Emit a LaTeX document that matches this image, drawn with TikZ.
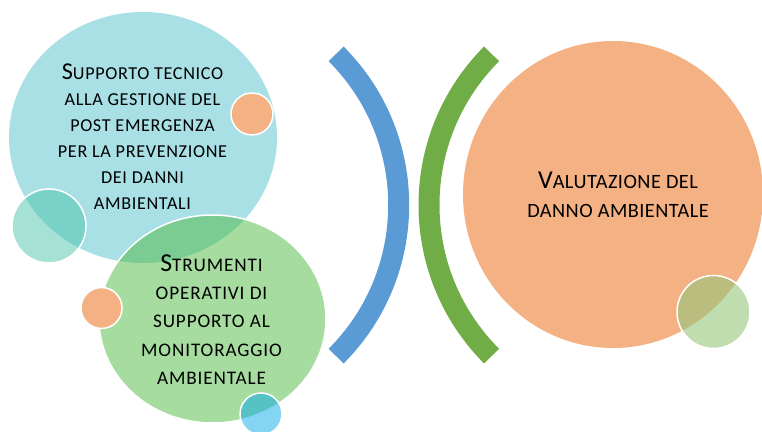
\documentclass[tikz,border=0pt]{standalone}
\usepackage{fontspec}
\setmainfont{Carlito}
\newcommand\initcap[2]{{\fontsize{#1}{#1}\selectfont #2}}
\definecolor{bluebg}{RGB}{168,224,230}
\definecolor{tealc}{RGB}{75,195,169}
\definecolor{greenc}{RGB}{77,185,65}
\definecolor{orangec}{RGB}{244,177,131}
\definecolor{skyc}{RGB}{9,169,233}
\definecolor{leafc}{RGB}{150,198,123}
\definecolor{arcblue}{RGB}{91,155,213}
\definecolor{arcgreen}{RGB}{112,173,71}
\begin{document}
\begin{tikzpicture}[x=1pt,y=1pt,
  dot/.style={draw=white,line width=1.5pt},
  halfdot/.style={dot,fill opacity=0.5},
  band/.style={line width=21pt,line cap=butt},
  label/.style={align=center,inner sep=0pt,text=black}]
\useasboundingbox (0,0) rectangle (762,431);
\clip (0,0) rectangle (762,431);
% blue disc
\fill[bluebg] (143,293.5) ellipse[x radius=134pt,y radius=125.5pt];
\node[label,font=\fontsize{18.2}{26}\selectfont\addfontfeature{LetterSpace=3.5}] (t1) at (142.5,294)
  {\initcap{24.2}{S}UPPORTO TECNICO\\ALLA GESTIONE DEL\\POST EMERGENZA\\PER LA PREVENZIONE\\DEI DANNI\\AMBIENTALI};
\path[halfdot,fill=tealc] (49,205) circle[radius=37pt];
\path[dot,fill=orangec] (252,317) circle[radius=21pt];
% green disc
\path[halfdot,fill=greenc] (212.5,112) ellipse[x radius=113.5pt,y radius=104pt];
\node[label,font=\fontsize{19.2}{28.3}\selectfont\addfontfeature{LetterSpace=4.5}] (t2) at (211.5,111.5)
  {\initcap{25.8}{S}TRUMENTI\\OPERATIVI DI\\SUPPORTO AL\\MONITORAGGIO\\AMBIENTALE};
\path[dot,fill=orangec] (101.5,123) circle[radius=20.5pt];
\path[halfdot,fill=skyc] (261,17) circle[radius=21pt];
% arcs
\draw[band,arcblue] (185,226) ++(-45:213.7pt) arc[start angle=-45,end angle=45,radius=213.7pt];
\draw[band,arcgreen] (642.7,226) ++(135:213.7pt) arc[start angle=135,end angle=225,radius=213.7pt];
% orange disc
\fill[orangec] (613,236.5) ellipse[x radius=150pt,y radius=153.5pt];
\node[label,font=\fontsize{20.3}{29}\selectfont\addfontfeature{LetterSpace=2.3}] (t3) at (618,236.5)
  {\initcap{25.8}{V}ALUTAZIONE DEL\\DANNO AMBIENTALE};
\path[dot,fill=leafc,fill opacity=0.6] (713.5,119) circle[radius=36.5pt];
\end{tikzpicture}
\end{document}
